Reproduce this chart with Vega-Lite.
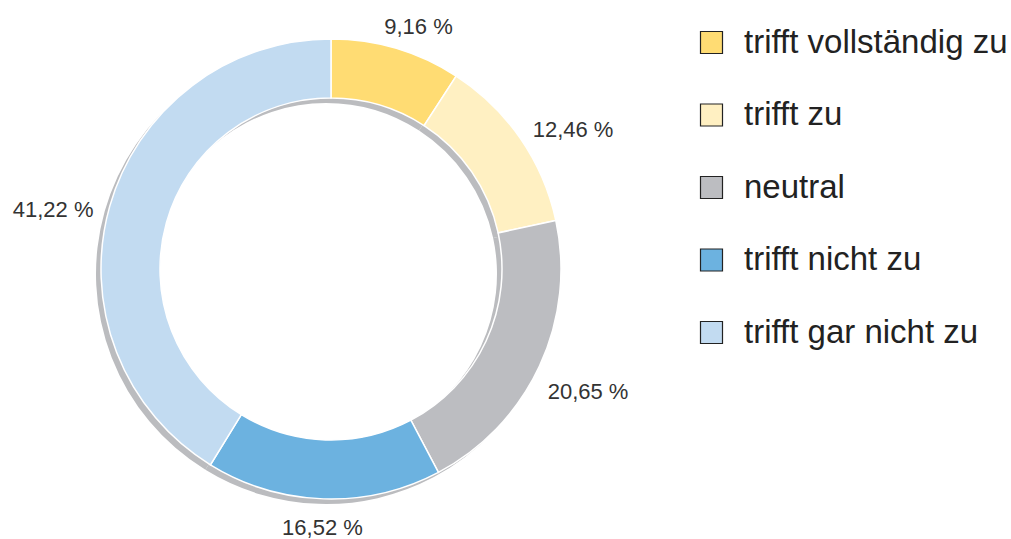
{
  "$schema": "https://vega.github.io/schema/vega-lite/v6.json",
  "width": 662,
  "height": 538,
  "padding": 0,
  "background": "white",
  "config": {"view": {"stroke": null}, "font": "Liberation Sans"},
  "data": {"values": [
    {"cat": "trifft vollständig zu", "value": 9.16, "label": "9,16 %", "ord": 1},
    {"cat": "trifft zu", "value": 12.46, "label": "12,46 %", "ord": 2},
    {"cat": "neutral", "value": 20.65, "label": "20,65 %", "ord": 3},
    {"cat": "trifft nicht zu", "value": 16.52, "label": "16,52 %", "ord": 4},
    {"cat": "trifft gar nicht zu", "value": 41.22, "label": "41,22 %", "ord": 5}
  ]},
  "layer": [
    {
      "mark": {"type": "arc", "outerRadius": 230, "innerRadius": 171, "xOffset": -5, "yOffset": 5, "fill": "#bbbcbf"},
      "encoding": {
        "theta": {"field": "value", "type": "quantitative", "stack": true},
        "order": {"field": "ord", "type": "quantitative"}
      }
    },
    {
      "mark": {"type": "arc", "outerRadius": 230, "innerRadius": 171, "stroke": "white", "strokeWidth": 1.5},
      "encoding": {
        "theta": {"field": "value", "type": "quantitative", "stack": true},
        "order": {"field": "ord", "type": "quantitative"},
        "color": {
          "field": "cat", "type": "nominal",
          "scale": {
            "domain": ["trifft vollständig zu", "trifft zu", "neutral", "trifft nicht zu", "trifft gar nicht zu"],
            "range": ["#ffdc73", "#fff0c2", "#bcbdc1", "#6cb2e0", "#c2dbf1"]
          },
          "legend": {
            "title": null,
            "orient": "right",
            "offset": 7,
            "padding": 26,
            "symbolType": "square",
            "symbolSize": 484,
            "symbolStrokeColor": "#222222",
            "symbolStrokeWidth": 1.2,
            "labelFontSize": 33,
            "labelColor": "#222222",
            "labelOffset": 16,
            "rowPadding": 38.5,
            "labelLimit": 400
          }
        }
      }
    },
    {
      "mark": {"type": "text", "radius": 252, "dx": 16, "fontSize": 22, "color": "#333333", "align": "center", "baseline": "middle"},
      "encoding": {
        "theta": {"field": "value", "type": "quantitative", "stack": true},
        "order": {"field": "ord", "type": "quantitative"},
        "text": {"condition": {"test": "datum.ord === 1", "field": "label"}, "value": ""}
      }
    },
    {
      "mark": {"type": "text", "radius": 245, "fontSize": 22, "color": "#333333", "align": "left", "baseline": "middle"},
      "encoding": {
        "theta": {"field": "value", "type": "quantitative", "stack": true},
        "order": {"field": "ord", "type": "quantitative"},
        "text": {"condition": {"test": "datum.ord === 2", "field": "label"}, "value": ""}
      }
    },
    {
      "mark": {"type": "text", "radius": 260, "dx": -19, "dy": 13, "fontSize": 22, "color": "#333333", "align": "left", "baseline": "middle"},
      "encoding": {
        "theta": {"field": "value", "type": "quantitative", "stack": true},
        "order": {"field": "ord", "type": "quantitative"},
        "text": {"condition": {"test": "datum.ord === 3", "field": "label"}, "value": ""}
      }
    },
    {
      "mark": {"type": "text", "radius": 259, "fontSize": 22, "color": "#333333", "align": "center", "baseline": "middle"},
      "encoding": {
        "theta": {"field": "value", "type": "quantitative", "stack": true},
        "order": {"field": "ord", "type": "quantitative"},
        "text": {"condition": {"test": "datum.ord === 4", "field": "label"}, "value": ""}
      }
    },
    {
      "mark": {"type": "text", "radius": 250, "dx": 3, "dy": 9, "fontSize": 22, "color": "#333333", "align": "right", "baseline": "middle"},
      "encoding": {
        "theta": {"field": "value", "type": "quantitative", "stack": true},
        "order": {"field": "ord", "type": "quantitative"},
        "text": {"condition": {"test": "datum.ord === 5", "field": "label"}, "value": ""}
      }
    }
  ]
}
